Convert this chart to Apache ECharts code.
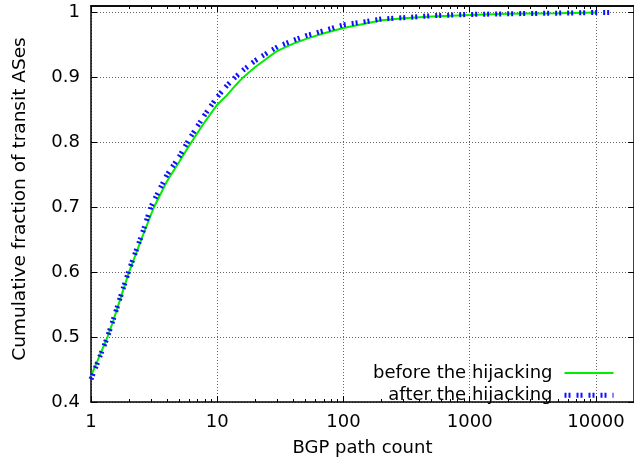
<!DOCTYPE html>
<html>
<head>
<meta charset="utf-8">
<script src="https://cdn.jsdelivr.net/npm/echarts@6/dist/echarts.min.js"></script>
<style>
  html, body { margin: 0; padding: 0; background: #fff; }
  #chart { width: 634px; height: 462px; }
</style>
</head>
<body>
<div id="chart"></div>
<script>
// path counts and cumulative fractions
const beforeCounts = [1, 1.35, 1.5, 2, 2.5, 3.15, 4, 5, 6, 8, 10, 12, 14, 16, 20, 25, 30, 40, 50, 70, 100, 150, 200, 300, 500, 1000, 2000, 5000, 10000]
const beforeFrac = [0.440, 0.500, 0.525, 0.600, 0.650, 0.700, 0.740, 0.770, 0.795, 0.832, 0.858, 0.873, 0.888, 0.900, 0.916, 0.930, 0.941, 0.952, 0.959, 0.968, 0.976, 0.983, 0.988, 0.991, 0.994, 0.996, 0.998, 0.999, 1.0]

const afterCounts = [1, 1.35, 1.5, 2, 2.5, 3, 4, 5, 6, 8, 10, 12, 14, 16, 20, 25, 30, 40, 50, 70, 100, 150, 200, 300, 500, 1000, 2000, 5000, 10000, 13000]
const afterFrac = [0.435, 0.500, 0.527, 0.603, 0.655, 0.702, 0.750, 0.778, 0.805, 0.843, 0.870, 0.888, 0.901, 0.911, 0.926, 0.938, 0.947, 0.957, 0.964, 0.972, 0.981, 0.986, 0.990, 0.992, 0.995, 0.997, 0.998, 0.999, 1.0, 1.0]

const xTicks = [1, 10, 100, 1000, 10000]
const yTicks = [0.4, 0.5, 0.6, 0.7, 0.8, 0.9, 1]
const minorTicks = [2, 3, 4, 5, 6, 7, 8, 9, 20, 30, 40, 50, 60, 70, 80, 90, 200, 300, 400, 500, 600, 700, 800, 900,
  2000, 3000, 4000, 5000, 6000, 7000, 8000, 9000]

const FONT = 'DejaVu Sans'
const GREEN = '#00ee00'
const BLUE = '#1010ff'
const chart = echarts.init(document.getElementById('chart'))

const gridLine = { show: true, lineStyle: { color: '#666', type: [1, 2], width: 1 } }
const border = { show: true, lineStyle: { color: '#000', width: 1.5 } }
const greenLine = { color: GREEN, width: 2 }
const blueLine = { color: BLUE, width: 5, type: [2, 2, 2, 6] }

// extra axes that only carry the mirrored and minor ticks
const tickAxis = (position, values, length) => ({
  type: 'log',
  position: position,
  min: 1,
  max: 20000,
  logBase: 10,
  axisLine: position === 'top' ? border : { show: false },
  axisLabel: { show: false },
  splitLine: { show: false },
  axisTick: { show: true, inside: true, length: length, customValues: values, lineStyle: { color: '#000', width: 1 } }
})

const option = {
  animation: false,
  backgroundColor: '#fff',
  textStyle: { fontFamily: FONT },
  grid: { left: 91, right: 0, top: 6, bottom: 59, containLabel: false },
  legend: {
    orient: 'vertical',
    right: 18,
    top: 364,
    padding: 0,
    align: 'right',
    itemWidth: 49,
    itemHeight: 14,
    itemGap: 4.3,
    itemStyle: { opacity: 0 },
    textStyle: { fontFamily: FONT, fontSize: 18, color: '#000', padding: [0, 7, 0, 0] },
    data: [
      { name: 'before the hijacking', lineStyle: greenLine },
      { name: 'after the hijacking', lineStyle: blueLine }
    ]
  },
  xAxis: [
    {
      type: 'log',
      logBase: 10,
      position: 'bottom',
      min: 1,
      max: 20000,
      splitNumber: 4,
      name: 'BGP path count',
      nameLocation: 'middle',
      nameGap: 37,
      nameTextStyle: { fontFamily: FONT, fontSize: 18, color: '#000' },
      axisLine: border,
      axisTick: { show: true, inside: true, length: 6, customValues: xTicks, lineStyle: { color: '#000' } },
      axisLabel: {
        margin: 11,
        fontFamily: FONT,
        fontSize: 18,
        color: '#000',
        customValues: xTicks,
        formatter: v => String(Math.round(v))
      },
      splitLine: gridLine
    },
    tickAxis('bottom', minorTicks, 3),
    tickAxis('top', xTicks, 6),
    tickAxis('top', minorTicks, 3)
  ],
  yAxis: [
    {
      type: 'value',
      min: 0.4,
      max: 1.01,
      interval: 0.1,
      name: 'Cumulative fraction of transit ASes',
      nameLocation: 'middle',
      nameGap: 61,
      nameTextStyle: { fontFamily: FONT, fontSize: 18.5, color: '#000', padding: [0, 0, 0, 10] },
      axisLine: border,
      axisTick: { show: true, inside: true, length: 6, customValues: yTicks, lineStyle: { color: '#000' } },
      axisLabel: {
        margin: 11,
        fontFamily: FONT,
        fontSize: 18,
        color: '#000',
        padding: [4, 0, 0, 0],
        customValues: yTicks,
        formatter: v => (Math.abs(v - 1) < 1e-6 ? '1' : v.toFixed(1))
      },
      splitLine: gridLine
    },
    {
      type: 'value',
      position: 'right',
      min: 0.4,
      max: 1.01,
      interval: 0.1,
      axisLine: border,
      axisLabel: { show: false },
      splitLine: { show: false },
      axisTick: { show: true, inside: true, length: 6, customValues: yTicks, lineStyle: { color: '#000' } }
    }
  ],
  series: [
    {
      name: 'before the hijacking',
      type: 'line',
      xAxisIndex: 0,
      yAxisIndex: 0,
      symbol: 'none',
      data: beforeCounts.map((c, i) => [c, beforeFrac[i]]),
      lineStyle: greenLine,
      itemStyle: { color: GREEN },
      z: 3
    },
    {
      name: 'after the hijacking',
      type: 'line',
      xAxisIndex: 0,
      yAxisIndex: 0,
      symbol: 'none',
      data: afterCounts.map((c, i) => [c, afterFrac[i]]),
      lineStyle: blueLine,
      itemStyle: { color: BLUE },
      z: 4
    }
  ]
}

chart.setOption(option)
</script>
</body>
</html>
